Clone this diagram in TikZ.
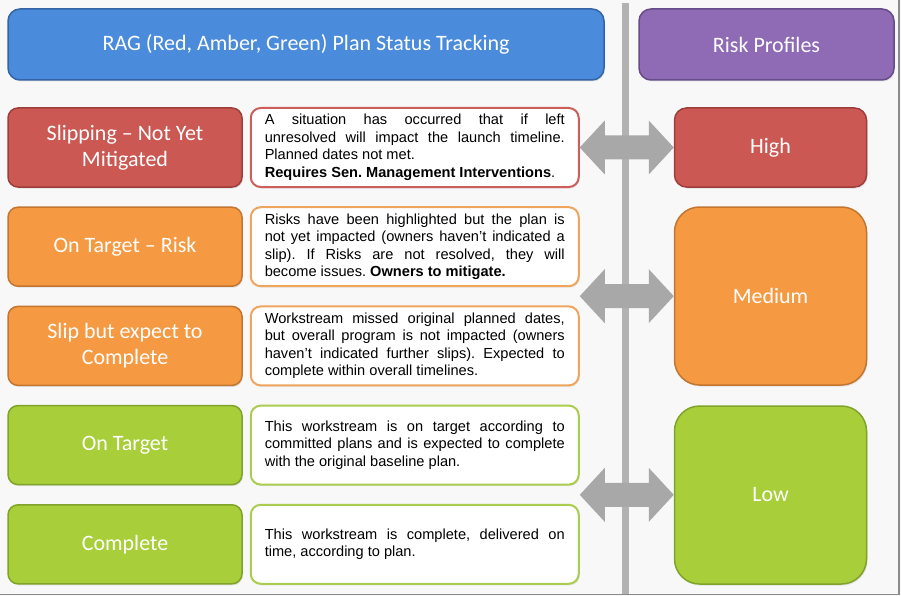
\documentclass[tikz,border=0pt]{standalone}
\usepackage{fontspec}
\setmainfont{Carlito}
\newfontfamily\bodyfont{Liberation Sans}
\usepackage{tikz}
\usetikzlibrary{positioning, calc, shadows}
\frenchspacing
\definecolor{pagebg}{RGB}{248, 248, 248}
\definecolor{framegray}{RGB}{140, 140, 140}
\definecolor{dividergray}{RGB}{178, 178, 178}
\definecolor{arrowgray}{RGB}{168, 168, 168}
\definecolor{headblue}{RGB}{74, 139, 219}
\definecolor{headblueline}{RGB}{52, 100, 165}
\definecolor{headpurple}{RGB}{142, 107, 180}
\definecolor{headpurpleline}{RGB}{102, 76, 136}
\definecolor{ragred}{RGB}{203, 88, 83}
\definecolor{ragredline}{RGB}{158, 62, 58}
\definecolor{ragamber}{RGB}{245, 153, 66}
\definecolor{ragamberline}{RGB}{196, 118, 48}
\definecolor{raggreen}{RGB}{168, 206, 58}
\definecolor{raggreenline}{RGB}{128, 164, 42}
\definecolor{descred}{RGB}{205, 95, 90}
\definecolor{descamber}{RGB}{240, 165, 95}
\definecolor{descgreen}{RGB}{170, 205, 80}

% double block arrow between two named points
\newcommand{\riskarrow}[2]{%
  \fill[arrowgray] let \p1=(#1), \p2=(#2), \p3=($(#1)!.5!(#2)$) in
    (\x1,\y3) -- (\x1+25pt,\y3+27pt) -- (\x1+25pt,\y3+12pt)
    -- (\x2-25pt,\y3+12pt) -- (\x2-25pt,\y3+27pt) -- (\x2,\y3)
    -- (\x2-25pt,\y3-27pt) -- (\x2-25pt,\y3-12pt)
    -- (\x1+25pt,\y3-12pt) -- (\x1+25pt,\y3-27pt) -- cycle;}

\begin{document}
\begin{tikzpicture}[
    x=1pt, y=-1pt,
    header/.style={rounded corners=12pt, line width=1.5pt, minimum height=71pt,
                   text=white, font=\fontsize{22pt}{26pt}\selectfont,
                   drop shadow={opacity=0.2, shadow xshift=1pt, shadow yshift=-1.5pt}},
    status/.style={rounded corners=10pt, line width=1.5pt, minimum width=234pt,
                   minimum height=79pt, text=white, align=center,
                   font=\fontsize{22pt}{26pt}\selectfont,
                   drop shadow={opacity=0.2, shadow xshift=1pt, shadow yshift=-1.5pt}},
    desc/.style={rounded corners=10pt, line width=2pt, fill=white,
                 minimum height=79pt, text width=300pt, inner xsep=14pt,
                 align=justify, text=black,
                 font=\bodyfont\fontsize{14.6pt}{17.5pt}\selectfont,
                 drop shadow={opacity=0.15, shadow xshift=1pt, shadow yshift=-1.5pt}},
    profile/.style={line width=1.5pt, minimum width=192pt, text=white,
                    font=\fontsize{22pt}{26pt}\selectfont,
                    drop shadow={opacity=0.2, shadow xshift=1pt, shadow yshift=-1.5pt}}
]
    \fill[pagebg] (0,0) rectangle (901,596);
    \useasboundingbox (0,0) rectangle (901,596);
    \draw[framegray, line width=1.5pt] (0,594.5) -- (899,594.5) -- (899,0);

    % divider
    \fill[dividergray] (622,3) rectangle (629,593.5);

    % headings
    \node[header, fill=headblue, draw=headblueline, minimum width=596pt]
        (tracking) at (306,44.5) {RAG (Red, Amber, Green) Plan Status Tracking};
    \node[header, fill=headpurple, draw=headpurpleline, minimum width=255pt]
        (profiles) at (766.5,44.5) {Risk Profiles};

    % status column
    \node[status, fill=ragred, draw=ragredline] (slipping) at (125,147.5)
        {Slipping -- Not Yet\\Mitigated};
    \node[status, fill=ragamber, draw=ragamberline] (targetrisk) at (125,246.7)
        {On Target -- Risk};
    \node[status, fill=ragamber, draw=ragamberline] (slipexpect) at (125,345.9)
        {Slip but expect to\\Complete};
    \node[status, fill=raggreen, draw=raggreenline] (ontarget) at (125,445.1)
        {On Target};
    \node[status, fill=raggreen, draw=raggreenline] (complete) at (125,544.3)
        {Complete};

    % descriptions
    \node[desc, draw=descred, right=7pt of slipping] (slippingdesc)
        {A situation has occurred that if left\linebreak
         unresolved will impact the launch timeline.\linebreak
         Planned dates not met.\\
         \textbf{Requires Sen. Management Interventions}.};
    \node[desc, draw=descamber, right=7pt of targetrisk] (targetriskdesc)
        {Risks have been highlighted but the plan is\linebreak
         not yet impacted (owners haven’t indicated a\linebreak
         slip). If Risks are not resolved, they will\linebreak
         become issues. \textbf{Owners to mitigate.}};
    \node[desc, draw=descamber, right=7pt of slipexpect] (slipexpectdesc)
        {Workstream missed original planned dates,\linebreak
         but overall program is not impacted (owners\linebreak
         haven’t indicated further slips). Expected to\linebreak
         complete within overall timelines.};
    \node[desc, draw=descgreen, right=7pt of ontarget] (ontargetdesc)
        {This workstream is on target according to\linebreak
         committed plans and is expected to complete\linebreak
         with the original baseline plan.};
    \node[desc, draw=descgreen, right=7pt of complete] (completedesc)
        {This workstream is complete, delivered on\linebreak
         time, according to plan.};

    % risk profiles
    \node[profile, rounded corners=12pt, fill=ragred, draw=ragredline,
          minimum height=79pt] (high) at (770.5,147.5) {High};
    \node[profile, rounded corners=25pt, fill=ragamber, draw=ragamberline,
          minimum height=178pt] (medium) at (770.5,296) {Medium};
    \node[profile, rounded corners=25pt, fill=raggreen, draw=raggreenline,
          minimum height=178pt] (low) at (770.5,495) {Low};

    % links
    \coordinate (amberlink) at ($(targetriskdesc.south east)!.5!(slipexpectdesc.north east)$);
    \coordinate (greenlink) at ($(ontargetdesc.south east)!.5!(completedesc.north east)$);
    \riskarrow{slippingdesc.east}{high.west}
    \riskarrow{amberlink}{medium.west}
    \riskarrow{greenlink}{low.west}
\end{tikzpicture}
\end{document}
